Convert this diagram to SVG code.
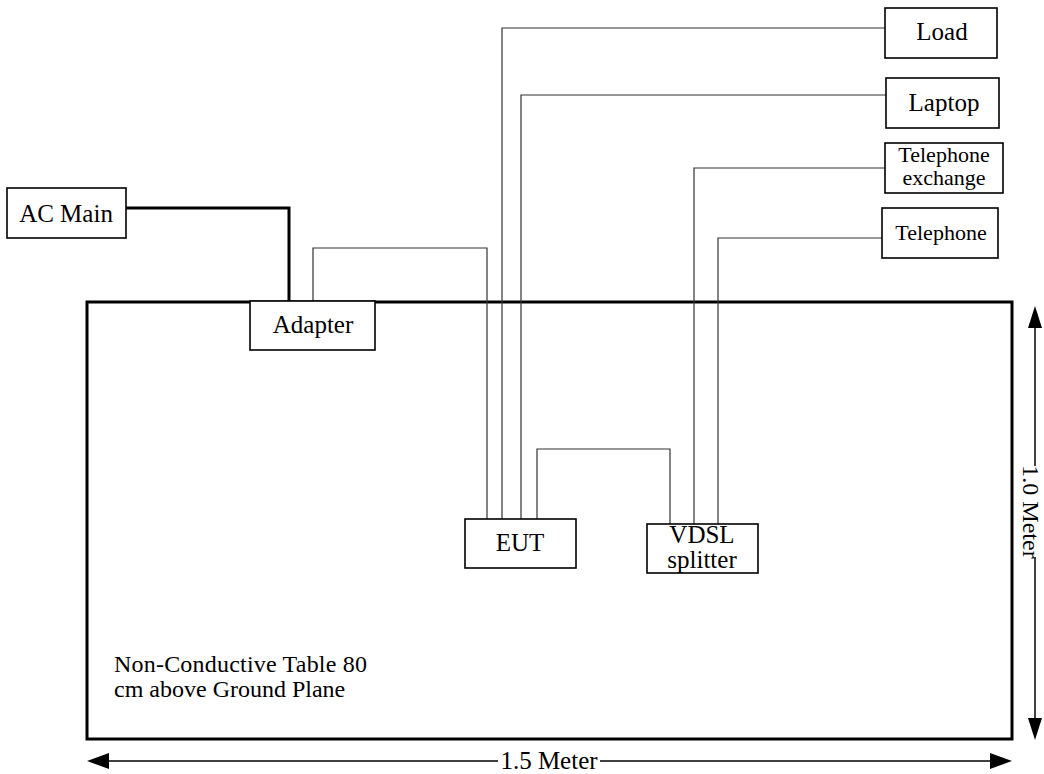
<svg xmlns="http://www.w3.org/2000/svg" width="1044" height="774" viewBox="0 0 1044 774">
<style>
.box{fill:#fff;stroke:#000;stroke-width:1.6}
.lbl{font-family:"Liberation Serif","Times New Roman",serif;font-size:25px;fill:#000;text-anchor:middle}
.sm{font-size:22px}
.note{font-family:"Liberation Serif","Times New Roman",serif;font-size:24px;fill:#000}
.wire{fill:none;stroke:#333;stroke-width:1.2}
.thick{fill:none;stroke:#000;stroke-width:3}
.dim{fill:none;stroke:#000;stroke-width:1.5}
.ah{fill:#000}
</style>
<rect width="1044" height="774" fill="#fff"/>
<g id="table">
<rect x="87" y="302" width="925" height="437" fill="none" stroke="#000" stroke-width="3"/>
<text class="note" x="114" y="672" textLength="253">Non-Conductive Table 80</text>
<text class="note" x="114" y="697">cm above Ground Plane</text>
</g>
<g id="connectors">
<polyline class="thick" points="126,208 289,208 289,302"/>
<polyline class="wire" points="313,301 313,248 487,248 487,519"/>
<polyline class="wire" points="885,28 502,28 502,519"/>
<polyline class="wire" points="886,95 521,95 521,519"/>
<polyline class="wire" points="537,519 537,449 670,449 670,524"/>
<polyline class="wire" points="885,168 694,168 694,524"/>
<polyline class="wire" points="882,238 718,238 718,524"/>
</g>
<g id="ac-main"><rect class="box" x="7" y="188" width="119" height="50"/><text class="lbl" x="66" y="222">AC Main</text></g>
<g id="adapter"><rect class="box" x="250" y="301" width="125" height="49"/><text class="lbl" x="313" y="333">Adapter</text></g>
<g id="load"><rect class="box" x="885" y="8" width="112" height="50"/><text class="lbl" x="942" y="40">Load</text></g>
<g id="laptop"><rect class="box" x="886" y="78" width="113" height="50"/><text class="lbl" x="944" y="111">Laptop</text></g>
<g id="telephone-exchange"><rect class="box" x="885" y="143" width="118" height="50"/><text class="lbl sm" x="944" y="162">Telephone</text><text class="lbl sm" x="944" y="185">exchange</text></g>
<g id="telephone"><rect class="box" x="882" y="208" width="116" height="50"/><text class="lbl sm" x="941" y="240">Telephone</text></g>
<g id="eut"><rect class="box" x="465" y="519" width="111" height="49"/><text class="lbl" x="520" y="551">EUT</text></g>
<g id="vdsl-splitter"><rect class="box" x="647" y="524" width="111" height="49"/><text class="lbl" x="702" y="543">VDSL</text><text class="lbl" x="702" y="568">splitter</text></g>
<g id="dimensions">
<line class="dim" x1="105" y1="761" x2="498" y2="761"/>
<line class="dim" x1="600" y1="761" x2="994" y2="761"/>
<polygon class="ah" points="87,761 109,753 109,769"/>
<polygon class="ah" points="1012,761 990,753 990,769"/>
<text class="lbl" x="549" y="769">1.5 Meter</text>
<line class="dim" x1="1035" y1="325" x2="1035" y2="466"/>
<line class="dim" x1="1035" y1="557" x2="1035" y2="720"/>
<polygon class="ah" points="1035,306 1028,328 1042,328"/>
<polygon class="ah" points="1035,740 1028,718 1042,718"/>
<text class="lbl" transform="translate(1023,512) rotate(90)" style="font-size:24px">1.0 Meter</text>
</g>
</svg>
